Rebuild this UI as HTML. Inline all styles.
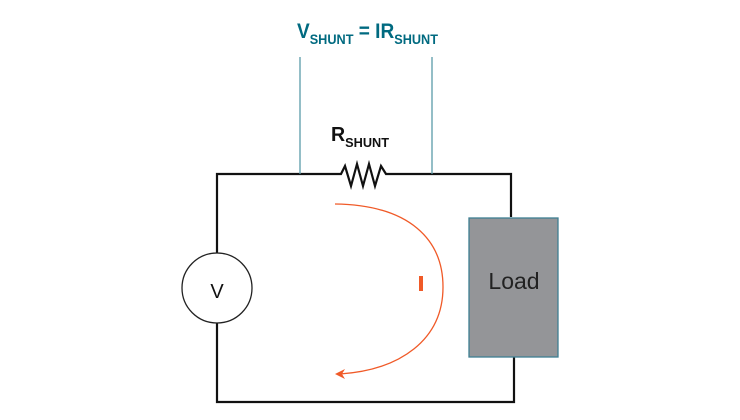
<!DOCTYPE html>
<html><head><style>body{margin:0;background:#fff}svg{display:block}</style></head><body>
<svg width="740" height="420" viewBox="0 0 740 420" xmlns="http://www.w3.org/2000/svg" font-family="Liberation Sans, sans-serif">
<g stroke="#111" stroke-width="2.2" fill="none">
<polyline points="217,253 217,174 341,174 345,166 351,186 357,164 363,186 369,164 375,186 381,166 386,174 511,174 511,217"/>
<polyline points="217,323 217,402 514,402 514,357"/>
</g>
<line x1="300" y1="57" x2="300" y2="174" stroke="#5b9aa9" stroke-width="1.3"/>
<line x1="432" y1="57" x2="432" y2="174" stroke="#5b9aa9" stroke-width="1.3"/>
<circle cx="217" cy="288" r="35" fill="#fff" stroke="#222" stroke-width="1.3"/>
<text x="217" y="298" font-size="20" text-anchor="middle" fill="#111">V</text>
<rect x="469" y="218" width="89" height="139" fill="#949598" stroke="#3e7f93" stroke-width="1.3"/>
<text x="514" y="289" font-size="23" text-anchor="middle" fill="#222">Load</text>
<path d="M335,204 C410,205 443,240 443,287 C443,340 400,370 340,374" fill="none" stroke="#f05a28" stroke-width="1.3"/>
<polygon points="335,374 345,369 342,374 345,379" fill="#f05a28"/>
<rect x="419" y="276" width="4" height="15" fill="#f05a28"/>
<text x="331" y="141" font-size="20" font-weight="bold" fill="#111" textLength="58" lengthAdjust="spacingAndGlyphs">R<tspan font-size="13" dy="6">SHUNT</tspan></text>
<text x="297" y="38" font-size="21" font-weight="bold" fill="#006a80" textLength="141" lengthAdjust="spacingAndGlyphs">V<tspan font-size="14" dy="6">SHUNT</tspan><tspan dy="-6"> = IR</tspan><tspan font-size="14" dy="6">SHUNT</tspan></text>
</svg>
</body></html>
